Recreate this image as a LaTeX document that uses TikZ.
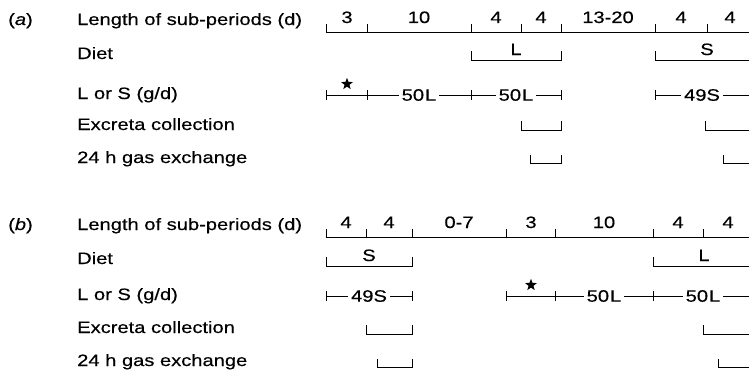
\documentclass[tikz,border=0pt]{standalone}
\usepackage{fontspec}
\setmainfont{Liberation Sans}[FakeStretch=1.22, FakeBold=0.4]
\usetikzlibrary{shapes.geometric}
\begin{document}
\begin{tikzpicture}[x=1pt,y=-1pt,
  txt/.style={inner sep=0pt, font=\fontsize{16.5}{18}\selectfont},
  lbl/.style={txt, anchor=base west},
  num/.style={txt, anchor=base},
  dose/.style={txt, anchor=center, fill=white, inner xsep=3pt, inner ysep=1pt},
  rule/.style={line width=1pt},
  starmark/.style={star, star points=5, star point ratio=2.4, fill=black,
                   draw=none, inner sep=0pt, minimum size=12.5pt}]
\useasboundingbox (0,0) rectangle (749,372);
\clip (0,0) rectangle (749,372);

% ---------------- panel (a) ----------------
\node[lbl] (pa) at (8,25) {(\textit{a})};
\node[lbl] (a1) at (77,25) {Length of sub-periods (d)};
\node[lbl] (a2) at (77,59) {Diet};
\node[lbl] (a3) at (77,99) {L or S (g/d)};
\node[lbl] (a4) at (77,130) {Excreta collection};
\node[lbl] (a5) at (77,163) {24 h gas exchange};

% sub-period scale
\draw[rule] (326,24) -- (326,32) -- (760,32);
\foreach \x in {367,471,521,561,655,707} \draw[rule] (\x,24) -- (\x,32);
\node[num] (an1) at (347,23) {3};
\node[num] (an2) at (419,23) {10};
\node[num] (an3) at (496,23) {4};
\node[num] (an4) at (541,23) {4};
\node[num] (an5) at (608,23) {13-20};
\node[num] (an6) at (681,23) {4};
\node[num] (an7) at (730,23) {4};

% diet
\draw[rule] (471,51) -- (471,60) -- (561,60) -- (561,51);
\node[num] (adL) at (516,55) {L};
\draw[rule] (655,51) -- (655,60) -- (760,60);
\node[num] (adS) at (707,55) {S};

% L or S supplement
\draw[rule] (326,95) -- (561,95);
\foreach \x in {326,367,471,561} \draw[rule] (\x,90) -- (\x,100);
\node[starmark] (ast) at (347,84) {};
\node[dose] (ad1) at (419,95) {50\kern1ptL};
\node[dose] (ad2) at (516,95) {50\kern1ptL};
\draw[rule] (655,95) -- (760,95);
\draw[rule] (655,90) -- (655,100);
\node[dose] (ad3) at (702,95) {49S};

% excreta collection
\draw[rule] (521,121) -- (521,130) -- (561,130) -- (561,121);
\draw[rule] (705,121) -- (705,130) -- (760,130);

% 24 h gas exchange
\draw[rule] (530,155) -- (530,163) -- (561,163) -- (561,155);
\draw[rule] (723,155) -- (723,163) -- (760,163);

% ---------------- panel (b) ----------------
\begin{scope}[shift={(0,205)}]
\node[lbl] (pb) at (8,25) {(\textit{b})};
\node[lbl] (b1) at (77,25) {Length of sub-periods (d)};
\node[lbl] (b2) at (77,59) {Diet};
\node[lbl] (b3) at (77,95) {L or S (g/d)};
\node[lbl] (b4) at (77,128) {Excreta collection};
\node[lbl] (b5) at (77,161) {24 h gas exchange};

% sub-period scale
\draw[rule] (326,24) -- (326,32) -- (760,32);
\foreach \x in {366,412,506,555,653,703} \draw[rule] (\x,24) -- (\x,32);
\node[num] (bn1) at (346,23) {4};
\node[num] (bn2) at (389,23) {4};
\node[num] (bn3) at (459,23) {0-7};
\node[num] (bn4) at (531,23) {3};
\node[num] (bn5) at (604,23) {10};
\node[num] (bn6) at (678,23) {4};
\node[num] (bn7) at (728,23) {4};

% diet
\draw[rule] (326,52) -- (326,61) -- (412,61) -- (412,52);
\node[num] (bdS) at (369,56) {S};
\draw[rule] (653,52) -- (653,61) -- (760,61);
\node[num] (bdL) at (704,56) {L};

% L or S supplement
\draw[rule] (326,91) -- (412,91);
\foreach \x in {326,412} \draw[rule] (\x,86) -- (\x,96);
\node[dose] (bd1) at (369,91) {49S};
\draw[rule] (506,91) -- (760,91);
\foreach \x in {506,555,653} \draw[rule] (\x,86) -- (\x,96);
\node[starmark] (bst) at (531,80) {};
\node[dose] (bd2) at (604,91) {50\kern1ptL};
\node[dose] (bd3) at (703,91) {50\kern1ptL};

% excreta collection
\draw[rule] (366,120) -- (366,129) -- (412,129) -- (412,120);
\draw[rule] (703,120) -- (703,129) -- (760,129);

% 24 h gas exchange
\draw[rule] (377,154) -- (377,162) -- (412,162) -- (412,154);
\draw[rule] (718,154) -- (718,162) -- (760,162);
\end{scope}
\end{tikzpicture}
\end{document}
